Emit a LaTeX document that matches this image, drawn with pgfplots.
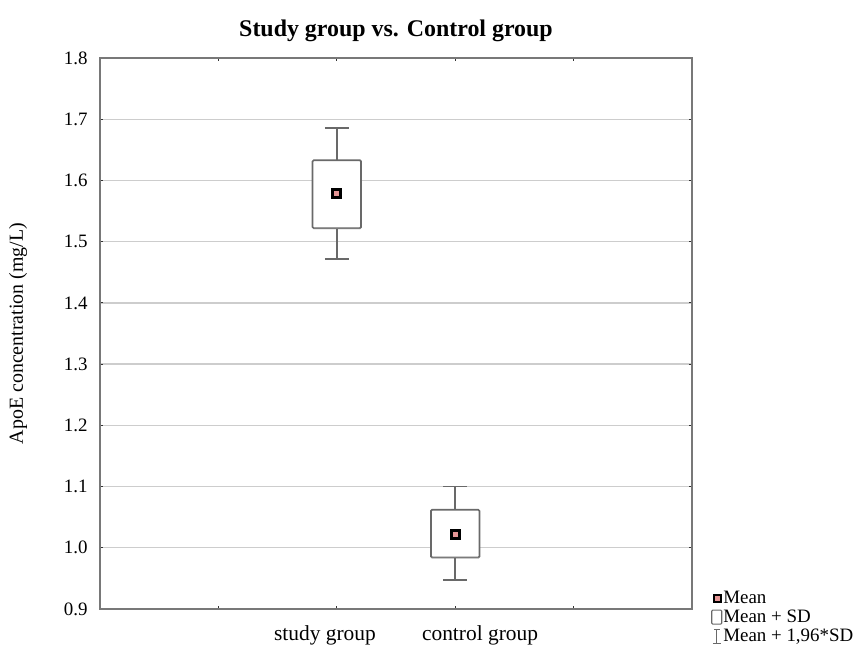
\documentclass[border=0pt]{standalone}
\usepackage{pgfplots}
\pgfplotsset{compat=1.18}
\usepgfplotslibrary{statistics}
\usepackage{fontspec}
\setmainfont{Liberation Serif}
\definecolor{boxgray}{RGB}{105,105,105}
\definecolor{axgray}{RGB}{120,120,120}
\definecolor{gridgray}{RGB}{205,205,205}
\definecolor{meanfill}{RGB}{230,150,150}
\begin{document}
\begin{tikzpicture}
\useasboundingbox (-100bp,-41bp) rectangle (766bp,609bp);
\begin{axis}[
  scale only axis, width=592bp, height=551bp,
  at={(0,0)}, anchor=south west,
  xmin=0, xmax=5, ymin=0.9, ymax=1.8,
  ytick={0.9,1.0,1.1,1.2,1.3,1.4,1.5,1.6,1.7,1.8},
  /pgf/number format/assume math mode=true,
  yticklabel style={/pgf/number format/fixed, /pgf/number format/fixed zerofill, /pgf/number format/precision=1,
    font=\fontsize{19}{22}\selectfont, xshift=-9bp},
  xtick={1,2,3,4}, xticklabels={},
  extra x ticks={1.9,3.21},
  extra x tick labels={study group, control group},
  extra x tick style={major tick length=0pt, xticklabel style={font=\fontsize{21.5}{24}\selectfont, yshift=-13bp}},
  ymajorgrids,
  grid style={gridgray, line width=1.3bp},
  axis line style={axgray, line width=1.6bp},
  tick style={black!80, line width=1bp},
  major tick length=3bp, tick align=inside,
  title={\bfseries Study group vs. Control group},
  title style={font=\fontsize{24}{28}\selectfont, at={(axis description cs:0.5,1)}, anchor=base, yshift=16bp},
  ylabel={ApoE concentration (mg/L)},
  ylabel style={font=\fontsize{20}{23}\selectfont, at={(axis description cs:-0.1385,0.5)}, anchor=center},
  legend style={at={(rel axis cs:1,0)}, anchor=north west, xshift=19bp, yshift=19bp,
    draw=none, fill=none, font=\fontsize{19}{21}\selectfont, row sep=3bp, inner sep=0pt,
    nodes={inner sep=1bp}},
  legend cell align=left,
]
\addplot[forget plot, boxplot/draw direction=y, boxplot prepared={draw position=2, lower whisker=1.472, lower quartile=1.522,
   median=1.522, upper quartile=1.633, upper whisker=1.686, box extend=0.41, whisker extend=0.2},
   boxplot/every median/.style={draw=none},
   draw=boxgray, line width=1.7bp, fill=white, rounded corners=1.2bp] coordinates {};
\addplot[forget plot, boxplot/draw direction=y, boxplot prepared={draw position=3, lower whisker=0.947, lower quartile=0.984,
   median=0.984, upper quartile=1.062, upper whisker=1.100, box extend=0.41, whisker extend=0.2},
   boxplot/every median/.style={draw=none},
   draw=boxgray, line width=1.7bp, fill=white, rounded corners=1.2bp] coordinates {};
\addplot[forget plot, only marks, mark=square*, mark size=4bp,
   mark options={draw=black, fill=meanfill, line width=3bp}] coordinates {(2,1.579) (3,1.021)};
\addlegendimage{legend image code/.code={\draw[black, line width=1.8bp, fill=meanfill] (4bp,-3.5bp) rectangle (11bp,3.5bp);}}
\addlegendentry{Mean}
\addlegendimage{legend image code/.code={\draw[boxgray, line width=1.1bp, rounded corners=1bp] (2bp,-7bp) rectangle (12bp,7bp);}}
\addlegendentry{Mean + SD}
\addlegendimage{legend image code/.code={\draw[boxgray, line width=1.1bp] (7bp,-7bp)--(7bp,7bp) (3bp,-7bp)--(11bp,-7bp) (4bp,7bp)--(10bp,7bp);}}
\addlegendentry{Mean + 1,96*SD}
\end{axis}
\end{tikzpicture}
\end{document}
